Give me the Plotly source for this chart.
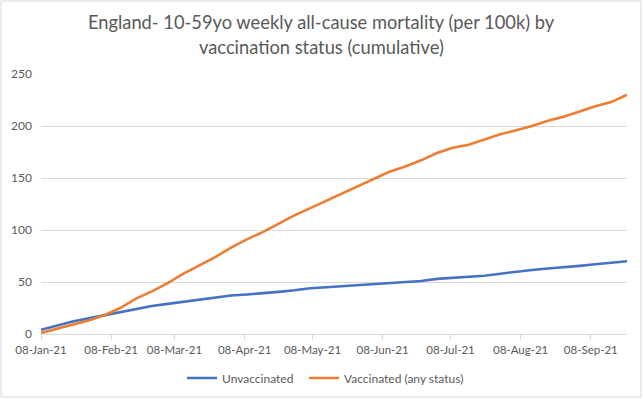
import plotly.graph_objects as go
import pandas as pd

weeks = pd.date_range("2021-01-08", "2021-09-24", freq="7D")

unvaccinated = [4, 8, 12, 15, 18, 21, 24, 27, 29, 31, 33, 35, 37, 38, 39, 40.5, 42, 44, 45,
                46, 47, 48, 49, 50, 51, 53, 54, 55, 56, 58, 60, 61.5, 63, 64, 65.5, 67, 68.5, 70]
vaccinated = [1, 5, 9, 13, 18, 25, 34, 41, 49, 58, 66, 74, 83, 91, 98, 106, 114, 121, 128,
              135, 142, 149, 156, 161, 167, 174, 179, 182, 187, 192, 196, 200, 205, 209, 214, 219, 223, 230]

tick_dates = pd.date_range("2021-01-01", "2021-09-01", freq="MS") + pd.Timedelta(days=7)
tick_labels = [d.strftime("%d-%b-%y") for d in tick_dates]
y_ticks = [0, 50, 100, 150, 200, 250]
title_lines = ["England- 10-59yo weekly all-cause mortality (per 100k) by",
               "vaccination status (cumulative)"]

font_family = "Lato, Open Sans, sans-serif"
grey = "#595959"

fig = go.Figure()
fig.add_trace(go.Scatter(x=weeks, y=unvaccinated, mode="lines", name="Unvaccinated",
                         line=dict(color="#4472C4", width=2.6), legend="legend"))
fig.add_trace(go.Scatter(x=weeks, y=vaccinated, mode="lines", name="Vaccinated (any status)",
                         line=dict(color="#ED7D31", width=2.6), legend="legend2"))

L, R, T, B = 41, 16, 74, 65
W, H = 643, 399
pw, ph = W - L - R, H - T - B

annotations = []
for line, ypx in zip(title_lines, [22, 47]):
    annotations.append(dict(text=line, xref="paper", yref="paper",
                            x=(W / 2 - L) / pw, y=1 + (T - ypx) / ph,
                            xanchor="center", yanchor="middle", showarrow=False,
                            font=dict(size=18.3, color=grey, family=font_family)))

legend_common = dict(orientation="h", xref="container", yref="container", xanchor="left",
                     y=1 - 378 / H, yanchor="middle", font=dict(size=12, color=grey),
                     itemwidth=30, bgcolor="rgba(0,0,0,0)")

fig.update_layout(
    width=W, height=H,
    margin=dict(l=L, r=R, t=T, b=B),
    paper_bgcolor="white", plot_bgcolor="white",
    font=dict(family=font_family, color=grey, size=12),
    annotations=annotations,
    showlegend=True,
    legend=dict(x=182 / W, **legend_common),
    legend2=dict(x=304 / W, **legend_common),
    xaxis=dict(type="date", range=[weeks[0], weeks[-1]], tickvals=tick_dates, ticktext=tick_labels,
               showgrid=False, showline=True, linecolor="#d9d9d9", linewidth=1,
               ticks="outside", ticklen=5, tickcolor="#d9d9d9", tickfont=dict(size=11.5, color=grey),
               zeroline=False, automargin=False),
    yaxis=dict(range=[0, 250], tickvals=y_ticks, showgrid=True, gridcolor="#d9d9d9", gridwidth=1,
               showline=False, zeroline=False, ticks="", ticklabelstandoff=8,
               tickfont=dict(size=12, color=grey), automargin=False),
    shapes=[dict(type="rect", xref="paper", yref="paper",
                 x0=-(L - 1) / pw, x1=1 + (R - 2) / pw, y0=-(B - 2) / ph, y1=1 + (T - 1) / ph,
                 line=dict(color="#d9d9d9", width=1), fillcolor="rgba(0,0,0,0)", layer="below")],
)

fig.write_html("out.html", config={"displayModeBar": False},
               post_script="document.body.style.margin='0';")
